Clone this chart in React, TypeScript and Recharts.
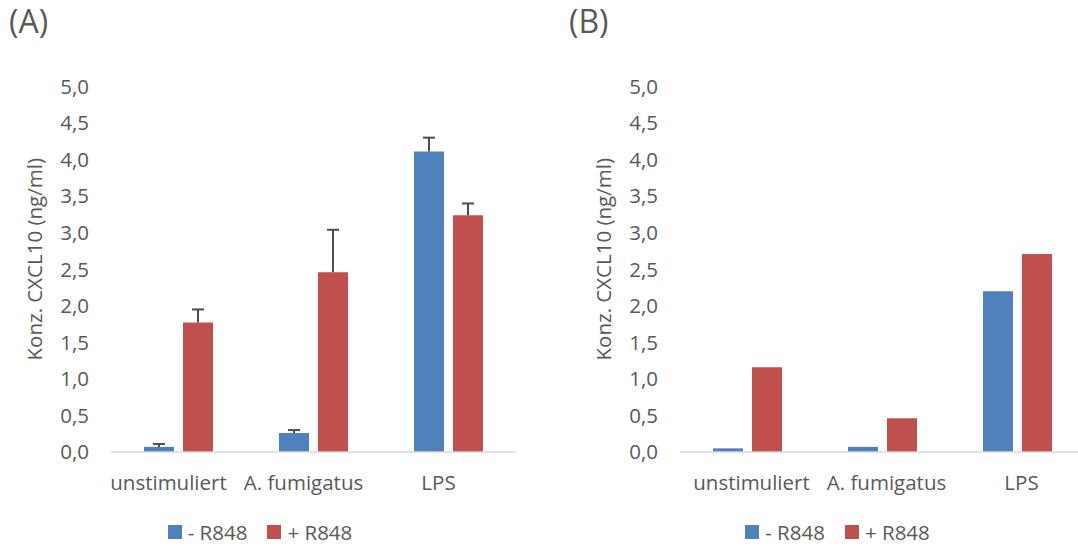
import React from 'react';
import { BarChart, Bar, XAxis, YAxis, Legend } from 'recharts';

const categories = ['unstimuliert', 'A. fumigatus', 'LPS'];
const aMinus = [0.07, 0.26, 4.11];
const aMinusErr = [0.04, 0.04, 0.19];
const aPlus = [1.77, 2.46, 3.24];
const aPlusErr = [0.18, 0.58, 0.16];
const bMinus = [0.05, 0.07, 2.2];
const bPlus = [1.16, 0.46, 2.71];
const yTicks = [0, 0.5, 1, 1.5, 2, 2.5, 3, 3.5, 4, 4.5, 5];
const seriesNames = ['- R848', '+ R848'];
const panelTitles = ['(A)', '(B)'];
const yLabel = 'Konz. CXCL10 (ng/ml)';

const BLUE = '#4f81bd';
const RED = '#c0504d';
const TEXT = '#595959';
const FONT = '"Open Sans", "Noto Sans", sans-serif';
const FS = 20.5;

const dataA = categories.map((c, i) => ({
  cat: c,
  minus: aMinus[i],
  minusErr: aMinusErr[i],
  plus: aPlus[i],
  plusErr: aPlusErr[i],
}));
const dataB = categories.map((c, i) => ({
  cat: c,
  minus: bMinus[i],
  plus: bPlus[i],
}));

const fmt = (v: number) => v.toFixed(1).replace('.', ',');

const ErrShape = (props: any) => {
  const { x, y, width, height } = props;
  if (height == null || width == null) return null;
  const cx = x + width / 2;
  return (
    <g>
      <line x1={cx} x2={cx} y1={y} y2={y + height} stroke="#4d4d4d" strokeWidth={2} />
      <line x1={cx - 6} x2={cx + 6} y1={y} y2={y} stroke="#4d4d4d" strokeWidth={2} />
    </g>
  );
};

const YLabel = (props: any) => {
  const vb = props.viewBox || { x: 0, y: 0, width: 0, height: 0 };
  const bx = vb.x + vb.width - 69;
  const cy = vb.y + vb.height / 2 - 10;
  return (
    <text
      transform={`translate(${bx}, ${cy}) rotate(-90)`}
      textAnchor="middle"
      fill={TEXT}
      fontSize={FS}
      fontFamily={FONT}
    >
      {yLabel}
    </text>
  );
};

const renderLegend = (props: any) => {
  const payload = (props.payload || [])
    .filter((p: any) => p.type !== 'none' && seriesNames.indexOf(p.value) >= 0)
    .slice()
    .sort((a: any, b: any) => seriesNames.indexOf(a.value) - seriesNames.indexOf(b.value));
  return (
    <div
      style={{
        display: 'flex',
        justifyContent: 'center',
        gap: 20,
        fontFamily: FONT,
        fontSize: FS,
        color: TEXT,
        lineHeight: 'normal',
      }}
    >
      {payload.map((p: any) => (
        <span key={p.value} style={{ display: 'flex', alignItems: 'center', whiteSpace: 'nowrap' }}>
          <span
            style={{ width: 14, height: 14, background: p.color, marginRight: 6, display: 'inline-block' }}
          />
          {p.value}
        </span>
      ))}
    </div>
  );
};

const Panel = ({ data, withErr, tickDx, legendLeft }: any) => (
  <BarChart
    width={540}
    height={546}
    data={data}
    margin={{ top: 86.5, right: 24, left: 0, bottom: 16 }}
    barGap={9}
  >
    <XAxis
      dataKey="cat"
      axisLine={{ stroke: '#d9d9d9', strokeWidth: 1.5 }}
      tickLine={false}
      tickSize={0}
      tickMargin={23}
      height={50}
      interval={0}
      tick={{ fill: TEXT, fontSize: FS, fontFamily: FONT, dx: tickDx }}
    />
    <YAxis
      domain={[0, 5]}
      ticks={yTicks}
      width={111}
      axisLine={false}
      tickLine={false}
      tickSize={0}
      tickMargin={22}
      tickFormatter={fmt}
      tick={{ fill: TEXT, fontSize: FS, fontFamily: FONT }}
      label={<YLabel />}
    />
    <Legend
      content={renderLegend}
      verticalAlign="bottom"
      wrapperStyle={{ left: legendLeft, width: 540, top: 518 }}
    />
    <Bar dataKey="minus" name={seriesNames[0]} fill={BLUE} barSize={30} stackId="m" isAnimationActive={false} />
    {withErr && (
      <Bar
        dataKey="minusErr"
        stackId="m"
        barSize={30}
        legendType="none"
        fill="transparent"
        shape={ErrShape}
        isAnimationActive={false}
      />
    )}
    <Bar dataKey="plus" name={seriesNames[1]} fill={RED} barSize={30} stackId="p" isAnimationActive={false} />
    {withErr && (
      <Bar
        dataKey="plusErr"
        stackId="p"
        barSize={30}
        legendType="none"
        fill="transparent"
        shape={ErrShape}
        isAnimationActive={false}
      />
    )}
  </BarChart>
);

const titleStyle: React.CSSProperties = {
  position: 'absolute',
  top: -1,
  fontFamily: FONT,
  fontSize: 32,
  color: TEXT,
  lineHeight: 'normal',
};

export default function App() {
  return (
    <div
      style={{
        position: 'absolute',
        left: 0,
        top: 0,
        width: 1078,
        height: 546,
        overflow: 'hidden',
        background: '#ffffff',
      }}
    >
      <div style={{ position: 'absolute', left: 0, top: 0 }}>
        <Panel data={dataA} withErr tickDx={-10} legendLeft={-10} />
      </div>
      <div style={{ position: 'absolute', left: 568.5, top: 0 }}>
        <Panel data={dataB} withErr={false} tickDx={4} legendLeft={-1} />
      </div>
      <div style={{ ...titleStyle, left: 9 }}>{panelTitles[0]}</div>
      <div style={{ ...titleStyle, left: 569 }}>{panelTitles[1]}</div>
    </div>
  );
}
